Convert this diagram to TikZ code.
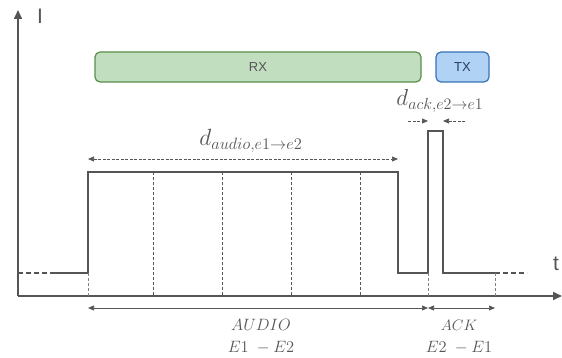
\documentclass[tikz,border=0pt]{standalone}
\usepackage{amsmath}
\usepackage{fontspec}
\setmainfont{Liberation Sans}
\usetikzlibrary{arrows.meta}

\begin{document}
\begin{tikzpicture}[x=1pt,y=-1pt,
    eje/.style={draw=mygray, line width=1.6pt, -{Triangle[length=9pt,width=8pt]}},
    senal/.style={draw=mygray, line width=1.3pt},
    division/.style={draw=mygray, line width=0.7pt, dash pattern=on 3pt off 2pt},
    cota/.style={draw=mygray, line width=0.7pt, {Triangle[length=6pt,width=5pt]}-{Triangle[length=6pt,width=5pt]}},
    caja/.style={rounded corners=5pt, line width=1.2pt, font=\fontsize{13}{15}\selectfont}]
    \definecolor{mygray}{RGB}{85,85,85}
    \definecolor{rxfill}{RGB}{193,223,190}
    \definecolor{rxborde}{RGB}{88,142,74}
    \definecolor{txfill}{RGB}{176,210,245}
    \definecolor{txborde}{RGB}{56,114,184}
    \definecolor{txtexto}{RGB}{40,60,100}
    \useasboundingbox (0,0) rectangle (562,358);

    % Ejes
    \coordinate (origen) at (18,296);
    \coordinate (ytope) at (18,10);
    \coordinate (xfin) at (562,296);
    \draw[eje] (origen) -- (ytope);
    \draw[eje] (origen) -- (xfin);
    \node[text=mygray, font=\fontsize{21}{24}\selectfont] (ejeI) at (40,16) {I};
    \node[text=mygray, font=\fontsize{21}{24}\selectfont] (ejet) at (556,264) {t};

    % Ventanas RX y TX
    \node[caja, fill=rxfill, draw=rxborde, text=mygray, minimum width=326pt, minimum height=30pt] (rx) at (258,67) {RX};
    \node[caja, fill=txfill, draw=txborde, text=txtexto, minimum width=53pt, minimum height=30pt] (tx) at (462.5,67) {TX};

    % Senal de corriente
    \coordinate (s0) at (18,273);
    \coordinate (s1) at (53,273);
    \coordinate (s2) at (88,273);
    \coordinate (s3) at (88,172);
    \coordinate (s4) at (398,172);
    \coordinate (s5) at (398,273);
    \coordinate (s6) at (428,273);
    \coordinate (s7) at (428,131);
    \coordinate (s8) at (443,131);
    \coordinate (s9) at (443,273);
    \coordinate (s10) at (495,273);
    \coordinate (s11) at (527,273);
    \draw[division, line width=1.2pt, dash pattern=on 5pt off 3pt] (s0) -- (s1);
    \draw[senal] (s1) -- (s2) -- (s3) -- (s4) -- (s5) -- (s6) -- (s7) -- (s8) -- (s9) -- (s10);
    \draw[division, line width=1.2pt, dash pattern=on 5pt off 3pt] (s10) -- (s11);

    % Divisiones del paquete de audio
    \foreach \x in {153,222,291,360}
        \draw[division] (\x,172) -- (\x,296);
    \foreach \x in {88,428,495}
        \draw[division, draw=gray] (\x,273) -- (\x,296);

    % Duracion audio
    \coordinate (da1) at (88,159);
    \coordinate (da2) at (398,159);
    \draw[cota, dash pattern=on 3pt off 1.5pt] (da1) -- (da2);
    \node[text=mygray, font=\fontsize{17}{20}\selectfont] (daudio) at (251,141) {\scalebox{1.36}{$d_{audio,e1\rightarrow e2}$}};

    % Duracion ack
    \coordinate (dk1) at (408,121);
    \coordinate (dk2) at (465,121);
    \draw[cota, {}-{Triangle[length=6pt,width=5pt]}, dash pattern=on 3pt off 1.5pt] (dk1) -- (s7 |- dk1);
    \draw[cota, {}-{Triangle[length=6pt,width=5pt]}, dash pattern=on 3pt off 1.5pt] (dk2) -- (s8 |- dk1);
    \node[text=mygray, font=\fontsize{17}{20}\selectfont] (dack) at (440,101) {\scalebox{1.34}{$d_{ack,e2\rightarrow e1}$}};

    % Tramos AUDIO y ACK
    \coordinate (ta1) at (88,308);
    \coordinate (ta2) at (428,308);
    \coordinate (ta3) at (495,308);
    \draw[cota] (ta1) -- (ta2);
    \draw[cota] (ta2) -- (ta3);
    \node[text=mygray, align=center, font=\fontsize{14}{22}\selectfont] (laudio) at (261,337) {\scalebox{1.14}{$AUDIO$}\\\scalebox{1.14}{$E1\;-E2$}};
    \node[text=mygray, align=center, font=\fontsize{14}{22}\selectfont] (lack) at (459,337) {\scalebox{1.05}{$ACK$}\\\scalebox{1.14}{$E2\;-E1$}};
\end{tikzpicture}
\end{document}
